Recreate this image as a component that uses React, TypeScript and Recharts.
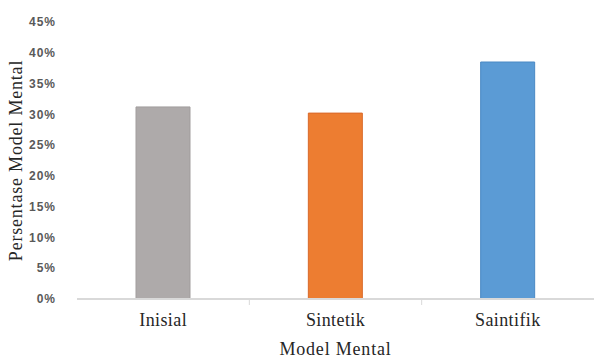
import { BarChart, Bar, XAxis, YAxis, Cell, Label } from 'recharts'

const categories = ['Inisial', 'Sintetik', 'Saintifik']
const percentages = [31.2, 30.2, 38.5]
const yTicks = [0, 5, 10, 15, 20, 25, 30, 35, 40, 45]
const fills = ['#AEAAAA', '#ED7D31', '#5B9BD5']
const strokes = ['#A19D9D', '#D9692A', '#4A89C4']

const data = categories.map((name, i) => ({ name, value: percentages[i] }))

// Excel-style category labels with a tick at the boundary between categories
const CategoryTick = (props: any) => {
  const { x, y, payload, index, width } = props
  const band = width / categories.length
  return (
    <g>
      {index > 0 && (
        <line x1={x - band / 2} x2={x - band / 2} y1={y - 8} y2={y - 2} stroke="#D9D9D9" strokeWidth={1} />
      )}
      <text
        x={x}
        y={y + 19}
        textAnchor="middle"
        fontFamily="'Liberation Serif', serif"
        fontSize={18}
        letterSpacing={0.4}
        fill="#262626"
      >
        {payload.value}
      </text>
    </g>
  )
}

export default function App() {
  return (
    <div style={{ position: 'absolute', left: 0, top: 0, background: '#fff' }}>
      <BarChart
        width={594}
        height={358}
        data={data}
        margin={{ top: 22, right: 0, left: 0, bottom: 0 }}
        barSize={54}
      >
        <XAxis
          dataKey="name"
          height={59}
          axisLine={{ stroke: '#D9D9D9', strokeWidth: 2 }}
          tickLine={false}
          tick={<CategoryTick />}
          interval={0}
        >
          <Label
            value="Model Mental"
            position="insideBottom"
            offset={3}
            style={{ fontFamily: "'Liberation Serif', serif", fontSize: 18, letterSpacing: 0.8, fill: '#262626' }}
          />
        </XAxis>
        <YAxis
          width={77}
          domain={[0, 45]}
          ticks={yTicks}
          interval={0}
          axisLine={false}
          tickLine={false}
          tickMargin={15}
          tickFormatter={(v: number) => `${v}%`}
          tick={{ fontFamily: 'Arial, sans-serif', fontSize: 12, fontWeight: 'bold', letterSpacing: 1, fill: '#595959' }}
        >
          <Label
            value="Persentase Model Mental"
            angle={-90}
            position="insideLeft"
            offset={16}
            style={{ textAnchor: 'middle', fontFamily: "'Liberation Serif', serif", fontSize: 18, letterSpacing: 0.8, fill: '#262626' }}
          />
        </YAxis>
        <Bar dataKey="value" isAnimationActive={false}>
          {data.map((d, i) => (
            <Cell key={d.name} fill={fills[i]} stroke={strokes[i]} strokeWidth={1} />
          ))}
        </Bar>
      </BarChart>
    </div>
  )
}
